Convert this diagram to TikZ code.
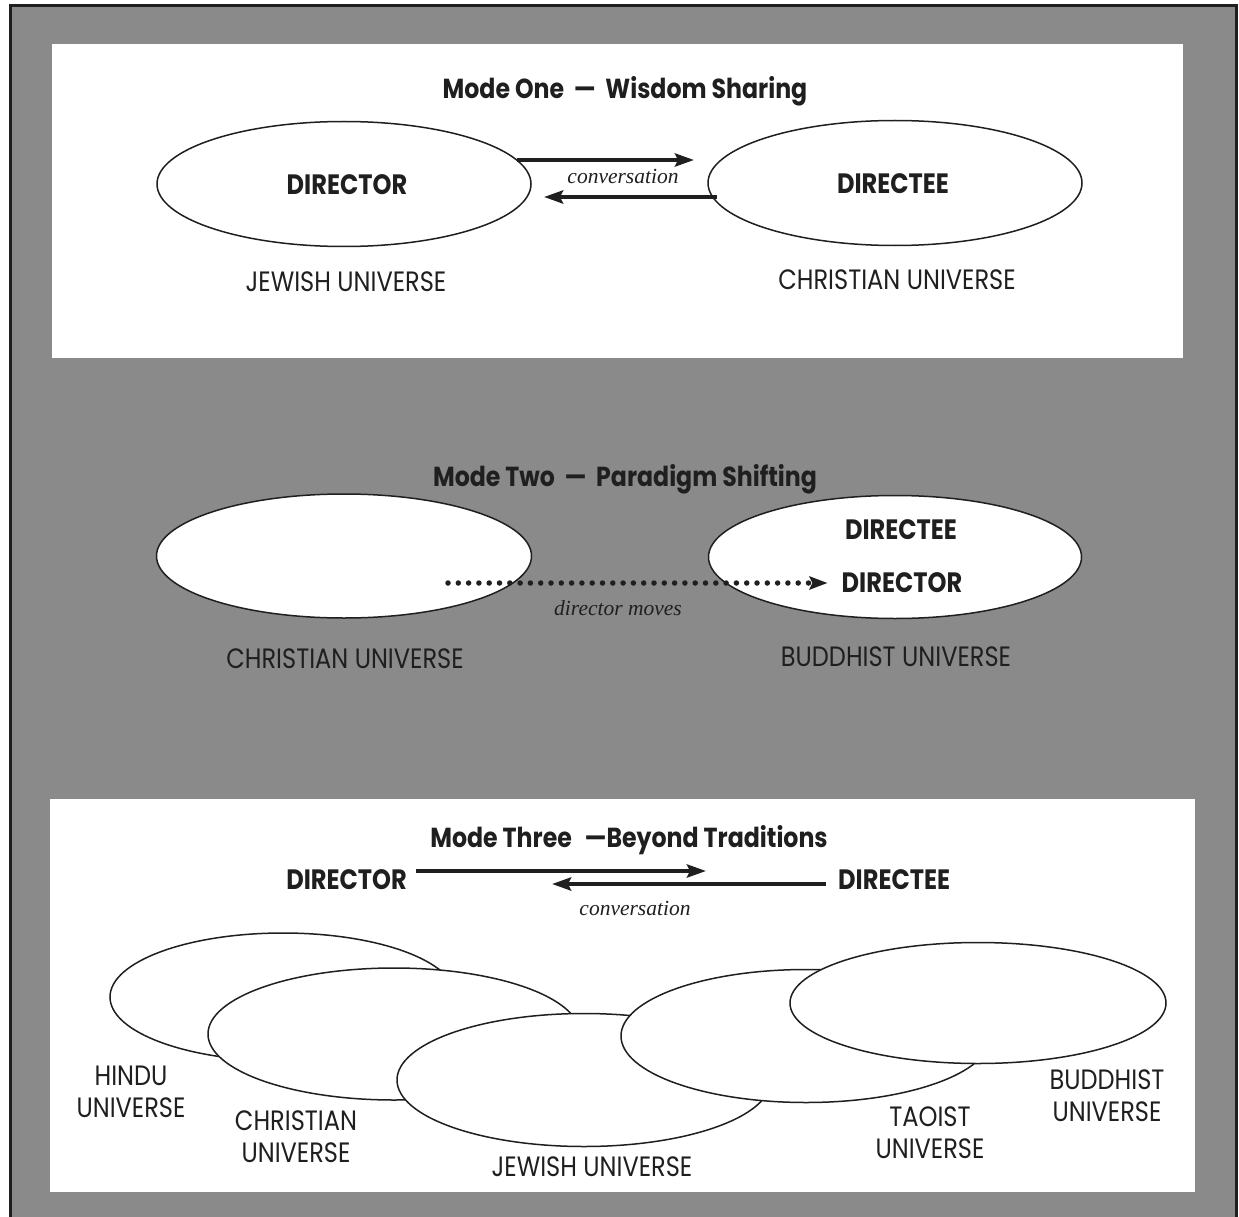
\documentclass[tikz,border=0pt]{standalone}
\usepackage{fontspec}
\setmainfont{Poppins}[FakeStretch=0.86]
\newfontfamily\serifit{Liberation Serif}
\usetikzlibrary{arrows.meta,shapes.geometric}
\definecolor{bg}{gray}{0.54}
\definecolor{ink}{gray}{0.12}
\tikzset{
  univ/.style={ellipse, draw=ink, line width=1.5pt, fill=white, inner sep=0pt},
  lbl/.style={font=\fontsize{28}{32}\selectfont, text=ink, inner sep=0pt, align=center},
  blbl/.style={font=\fontsize{28}{32}\selectfont\bfseries, text=ink, inner sep=0pt},
  ttl/.style={font=\fontsize{27.5}{30}\selectfont\bfseries, text=ink, inner sep=0pt, anchor=base},
  conv/.style={font=\serifit\itshape\fontsize{21.5}{24}\selectfont, text=ink, inner sep=0pt, anchor=base},
  arr/.style={draw=ink, line width=4pt, -{Stealth[length=19pt,width=13pt,inset=3pt]}},
  dotarr/.style={draw=ink, line width=5.5pt, line cap=round, dash pattern=on 0pt off 10.3pt,
     -{Stealth[length=18pt,width=13pt,inset=3pt,line cap=butt]}}
}
\begin{document}
\begin{tikzpicture}[x=1pt,y=-1pt]
\useasboundingbox (0,0) rectangle (1239,1217);
\fill[white] (0,0) rectangle (1239,1217);
% outer gray frame
\fill[bg] (10,6) rectangle (1236,1217);
\draw[ink, line width=3pt] (10,1217) -- (10,6) -- (1236,6) -- (1236,1217);
% white panels
\fill[white] (52,44) rectangle (1183,358);
\fill[white] (50,799) rectangle (1195,1192);

% ---------- Mode One ----------
\node[ttl] (t1) at (625,99) {Mode One \,—\, Wisdom Sharing};
\node[univ, minimum width=374pt, minimum height=125pt] (L1) at (344,184) {};
\node[univ, minimum width=374pt, minimum height=125pt] (R1) at (895,183) {};
\node[blbl] (dir1) at (347,185) {DIRECTOR};
\node[blbl] (dee1) at (893,184) {DIRECTEE};
\node[lbl] (ju1) at (346,282) {JEWISH UNIVERSE};
\node[lbl] (cu1) at (897,280) {CHRISTIAN UNIVERSE};
\coordinate (a1s) at (517,160);
\coordinate (a1e) at (694,160);
\coordinate (b1s) at (717,197);
\coordinate (b1e) at (544,197);
\draw[arr] (a1s) -- (a1e);
\draw[arr] (b1s) -- (b1e);
\node[conv] (c1) at (623,184) {conversation};

% ---------- Mode Two ----------
\node[ttl] (t2) at (625,486) {Mode Two \,—\, Paradigm Shifting};
\node[univ, minimum width=375pt, minimum height=124pt] (L2) at (344,556) {};
\node[univ, minimum width=373pt, minimum height=123pt] (R2) at (895,557) {};
\node[blbl] (dee2) at (901,530) {DIRECTEE};
\node[blbl] (dir2) at (902,583) {DIRECTOR};
\node[lbl] (cu2) at (345,659) {CHRISTIAN UNIVERSE};
\node[lbl] (bu2) at (896,657) {BUDDHIST UNIVERSE};
\coordinate (d2s) at (448,583);
\draw[dotarr] (d2s) -- ([xshift=-14pt]dir2.west);
\node[conv] (c2) at (618,615) {director moves};

% ---------- Mode Three ----------
\node[ttl] (t3) at (629,847) {Mode Three \;—Beyond Traditions};
\node[blbl, anchor=east] (dir3) at (407,880) {DIRECTOR};
\node[blbl, anchor=west] (dee3) at (838,880) {DIRECTEE};
\coordinate (a3e) at (706,871);
\coordinate (b3e) at (552,884);
\draw[arr] (dir3.east |- a3e) ++(9,0) -- (a3e);
\draw[arr] (dee3.west |- b3e) ++(-12,0) -- (b3e);
\node[conv] (c3) at (635,915) {conversation};

\node[univ, minimum width=346pt, minimum height=128pt] (hin) at (283,997) {};
\node[univ, minimum width=372pt, minimum height=132pt] (chr) at (394,1034) {};
\node[univ, minimum width=374pt, minimum height=133pt] (jew) at (584,1080) {};
\node[univ, minimum width=370pt, minimum height=133pt] (tao) at (806,1036) {};
\node[univ, minimum width=376pt, minimum height=121pt] (bud) at (978,1003) {};

\node[lbl] (hinl) at (131,1092) {HINDU\\UNIVERSE};
\node[lbl] (chrl) at (296,1137) {CHRISTIAN\\UNIVERSE};
\node[lbl] (jewl) at (592,1167) {JEWISH UNIVERSE};
\node[lbl] (taol) at (930,1133) {TAOIST\\UNIVERSE};
\node[lbl] (budl) at (1107,1096) {BUDDHIST\\UNIVERSE};
\end{tikzpicture}
\end{document}
